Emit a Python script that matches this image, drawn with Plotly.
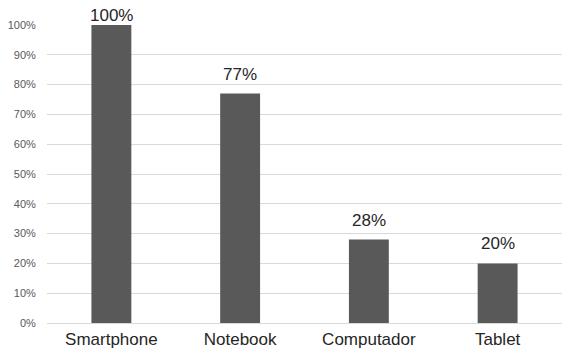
import plotly.graph_objects as go

# Device ownership share
categories = ["Smartphone", "Notebook", "Computador", "Tablet"]
shares = [100, 77, 28, 20]
y_ticks = [0, 10, 20, 30, 40, 50, 60, 70, 80, 90, 100]
y_tick_labels = [f"{v}%" for v in y_ticks]

FONT = "Liberation Sans, Arial, sans-serif"

fig = go.Figure(
    go.Bar(
        x=categories,
        y=shares,
        marker=dict(color="#595959", line=dict(width=0)),
        width=0.31,
        hoverinfo="x+y",
    )
)

# Value labels above each bar; the top label is kept inside the chart area
for cat, val in zip(categories, shares):
    fig.add_annotation(
        x=cat,
        y=val,
        text=f"{val}%",
        showarrow=False,
        yanchor="bottom",
        yshift=-2 if val >= 100 else 8,
        font=dict(family=FONT, size=17, color="#262626"),
    )

fig.update_layout(
    width=562,
    height=351,
    margin=dict(l=47, r=0, t=25, b=28),
    paper_bgcolor="white",
    plot_bgcolor="white",
    showlegend=False,
    font=dict(family=FONT),
)

fig.update_xaxes(
    automargin=False,
    showgrid=False,
    showline=False,
    ticks="outside",
    ticklen=1,
    tickcolor="rgba(0,0,0,0)",
    tickfont=dict(size=17, color="#262626"),
)

fig.update_yaxes(
    automargin=False,
    range=[0, 100],
    tickvals=y_ticks,
    ticktext=y_tick_labels,
    showgrid=True,
    gridcolor="#d9d9d9",
    gridwidth=1,
    zeroline=True,
    zerolinecolor="#d9d9d9",
    zerolinewidth=1,
    showline=False,
    ticks="outside",
    ticklen=8,
    tickcolor="rgba(0,0,0,0)",
    tickfont=dict(size=11, color="#595959"),
)

fig.write_html("out.html")
